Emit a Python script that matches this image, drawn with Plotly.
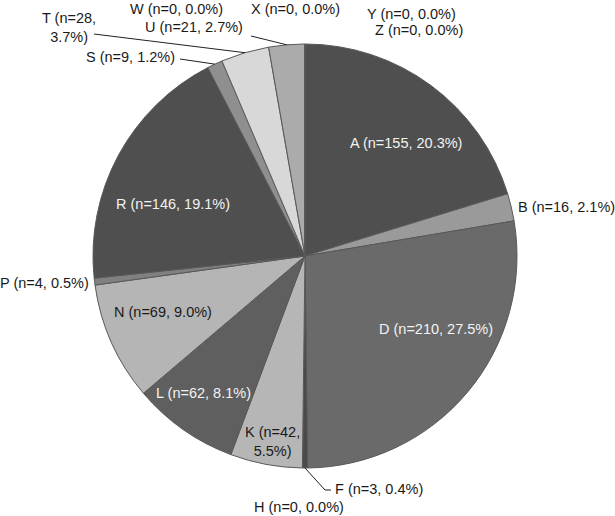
import plotly.graph_objects as go
import numpy as np

# data (clockwise from 12 o'clock)
labels = ["A", "B", "D", "F", "H", "K", "L", "N", "P", "R", "S", "T", "U", "W", "X", "Y", "Z"]
counts = [155, 16, 210, 3, 0, 42, 62, 69, 4, 146, 9, 28, 21, 0, 0, 0, 0]
colors = ["#4f4f4f", "#9a9a9a", "#6a6a6a", "#4a4a4a", "#808080", "#b6b6b6", "#5f5f5f",
          "#b5b5b5", "#808080", "#4f4f4f", "#8f8f8f", "#d8d8d8", "#ababab",
          "#808080", "#808080", "#808080", "#808080"]

W, H = 615, 516
cx, cy, r = 305, 256, 212   # pie centre and radius in pixels

def px(x):
    return x / W

def py(y):
    return 1 - y / H

fig = go.Figure()
fig.add_trace(go.Pie(labels=labels, values=counts, sort=False, direction="clockwise", rotation=0,
                     marker=dict(colors=colors, line=dict(color="#585858", width=1)),
                     textinfo="none", hoverinfo="label+value+percent", showlegend=False,
                     domain=dict(x=[px(cx - r), px(cx + r)], y=[py(cy + r), py(cy - r)])))

total = sum(counts)
cum = np.cumsum(counts)
midAng = (cum - np.array(counts) / 2) / total * 2 * np.pi
rim = {lab: (cx + r * np.sin(a), cy - r * np.cos(a)) for lab, a in zip(labels, midAng)}

#label placement: (x, y, xanchor, colour, break line)
place = {
    "A": (406, 143, "center", "white", False),
    "B": (516, 207, "left", "black", False),
    "D": (436, 329, "center", "white", False),
    "F": (333, 489, "left", "black", False),
    "H": (299, 507, "center", "black", False),
    "K": (272, 441, "center", "black", True),
    "L": (203, 393, "center", "white", False),
    "N": (163, 312, "center", "black", False),
    "P": (91, 283, "right", "black", False),
    "R": (173, 204, "center", "white", False),
    "S": (177, 57, "right", "black", False),
    "T": (69, 28, "center", "black", True),
    "U": (194, 27, "center", "black", False),
    "W": (176, 9, "center", "black", False),
    "X": (295, 9, "center", "black", False),
    "Y": (411, 14, "center", "black", False),
    "Z": (419, 30, "center", "black", False),
}

for lab, n in zip(labels, counts):
    x, y, anchor, col, brk = place[lab]
    sep = "<br>" if brk else " "
    txt = f"{lab} (n={n},{sep}{n / total * 100:.1f}%)"
    fig.add_annotation(x=px(x), y=py(y), xref="paper", yref="paper", text=txt, showarrow=False,
                       xanchor=anchor, yanchor="middle", align="center",
                       font=dict(family="Liberation Sans, Arial", size=14.5,
                                 color="#f2f2f2" if col == "white" else "#1a1a1a"))

#leader lines from label to the middle of the slice rim
leaders = {"T": [(94, 34)], "U": [(251, 36)], "S": [(180, 59)], "F": [(331, 490), (325, 490)]}
for lab, pts in leaders.items():
    pts = pts + [rim[lab]]
    path = "M " + " L ".join(f"{px(a)} {py(b)}" for a, b in pts)
    fig.add_shape(type="path", path=path, xref="paper", yref="paper",
                  line=dict(color="#222222", width=1))

fig.update_layout(width=W, height=H, margin=dict(l=0, r=0, t=0, b=0),
                  paper_bgcolor="white", plot_bgcolor="white")
# drop the page's default body margin so the figure sits at the window corner
fig.write_html("out.html", config={"displayModeBar": False},
               post_script="document.body.style.margin='0';")
